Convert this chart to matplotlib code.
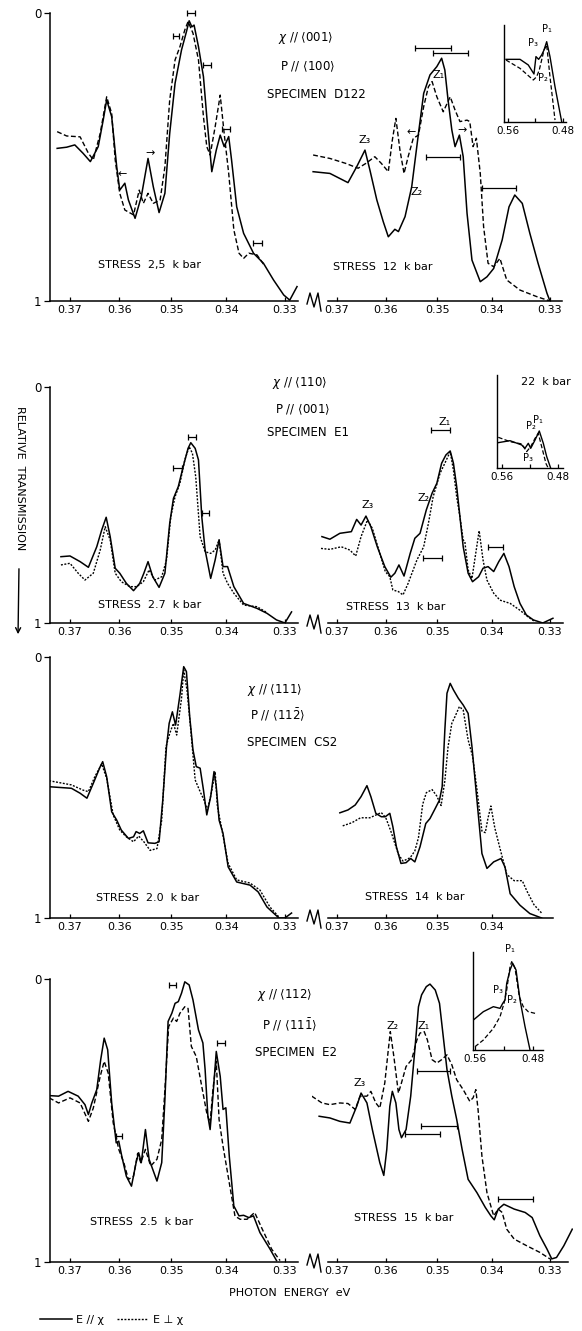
import numpy as np
import matplotlib
matplotlib.use("Agg")
import matplotlib.pyplot as plt
from matplotlib.lines import Line2D
from matplotlib.patches import FancyArrowPatch

# ======================= DATA (photon energy eV, relative transmission) =======================
TICKS = [0.37, 0.36, 0.35, 0.34, 0.33]
TICK_LABELS = ['0.37', '0.36', '0.35', '0.34', '0.33']
INSET_TICKS = [0.56, 0.52, 0.48]
INSET_TICK_LABELS = ['0.56', '', '0.48']

# ---- panel 1 : chi // <001>, P // <100>, specimen D122 ----
P1L_SOLID = [(0.3727,0.470),(0.3707,0.466),(0.3690,0.458),(0.3673,0.487),(0.3658,0.516),(0.3642,0.464),
             (0.3632,0.372),(0.3625,0.302),(0.3615,0.360),(0.3605,0.534),(0.3599,0.615),(0.3589,0.591),
             (0.3582,0.649),(0.3569,0.713),(0.3557,0.638),(0.3544,0.505),(0.3534,0.603),(0.3523,0.693),
             (0.3512,0.626),(0.3503,0.418),(0.3493,0.244),(0.3481,0.128),(0.3472,0.065),(0.3467,0.027),
             (0.3462,0.048),(0.3458,0.042),(0.3450,0.117),(0.3441,0.221),(0.3435,0.360),(0.3426,0.551),
             (0.3418,0.476),(0.3411,0.424),(0.3404,0.464),(0.3396,0.429),(0.3391,0.510),(0.3382,0.673),
             (0.3370,0.765),(0.3353,0.834),(0.3336,0.869),(0.3319,0.927),(0.3302,0.979),(0.3292,0.997),
             (0.3280,0.950)]
P1L_DASH = [(0.3727,0.412),(0.3707,0.427),(0.3679,0.430),(0.3662,0.487),(0.3652,0.510),(0.3638,0.418),
            (0.3625,0.291),(0.3615,0.349),(0.3608,0.510),(0.3599,0.626),(0.3589,0.684),(0.3572,0.701),
            (0.3561,0.615),(0.3553,0.661),(0.3544,0.626),(0.3534,0.661),(0.3521,0.649),(0.3512,0.534),
            (0.3503,0.302),(0.3493,0.163),(0.3484,0.117),(0.3475,0.059),(0.3469,0.030),(0.3460,0.070),
            (0.3450,0.163),(0.3441,0.360),(0.3435,0.464),(0.3429,0.493),(0.3420,0.395),(0.3411,0.285),
            (0.3404,0.418),(0.3396,0.557),(0.3387,0.753),(0.3378,0.834),(0.3370,0.852),(0.3361,0.834),
            (0.3347,0.840),(0.3336,0.872)]
P1R_SOLID = [(0.3751,0.551),(0.3715,0.557),(0.3677,0.589),(0.3659,0.534),(0.3642,0.476),(0.3632,0.545),
             (0.3618,0.649),(0.3605,0.725),(0.3595,0.777),(0.3582,0.751),(0.3575,0.759),(0.3562,0.707),
             (0.3549,0.603),(0.3536,0.418),(0.3526,0.279),(0.3514,0.215),(0.3501,0.186),(0.3492,0.157),
             (0.3486,0.198),(0.3480,0.302),(0.3473,0.406),(0.3467,0.464),(0.3459,0.424),(0.3452,0.499),
             (0.3445,0.695),(0.3436,0.858),(0.3421,0.933),(0.3409,0.916),(0.3397,0.887),(0.3382,0.788),
             (0.3370,0.673),(0.3360,0.632),(0.3347,0.661),(0.3334,0.765),(0.3320,0.869),(0.3305,0.973),
             (0.3300,1.000)]
P1R_DASH = [(0.3751,0.493),(0.3715,0.505),(0.3682,0.522),(0.3656,0.539),(0.3640,0.522),(0.3622,0.499),
            (0.3609,0.522),(0.3595,0.551),(0.3587,0.441),(0.3580,0.366),(0.3572,0.476),(0.3564,0.557),
            (0.3556,0.499),(0.3546,0.435),(0.3536,0.424),(0.3526,0.325),(0.3517,0.256),(0.3510,0.238),
            (0.3501,0.291),(0.3489,0.343),(0.3476,0.291),(0.3467,0.337),(0.3458,0.377),(0.3445,0.372),
            (0.3440,0.377),(0.3434,0.464),(0.3428,0.435),(0.3421,0.557),(0.3415,0.742),(0.3407,0.869),
            (0.3397,0.881),(0.3386,0.852),(0.3374,0.927),(0.3351,0.962),(0.3322,0.985),(0.3300,1.000)]
P1L_BARS = [(0.3464,0.0007,0.001),(0.3491,0.0006,0.080),(0.3434,0.0007,0.181),
            (0.3401,0.0007,0.403),(0.3346,0.0008,0.799)]
P1R_BARS = [(0.3509,0.0034,0.123),(0.3476,0.0032,0.140),(0.3489,0.0032,0.499),(0.3388,0.0030,0.609)]
P1L_MARKS = [('←',0.3595,0.559),('→',0.3540,0.485)]
P1R_MARKS = [('Z₃',0.3642,0.441),('Z₂',0.3539,0.620),('Z₁',0.3498,0.215),
             ('←',0.3550,0.412),('→',0.3454,0.406)]

# ---- panel 2 : chi // <110>, P // <001>, specimen E1 ----
P2L_SOLID = [(0.3719,0.719),(0.3700,0.716),(0.3679,0.740),(0.3662,0.764),(0.3645,0.677),(0.3635,0.606),
             (0.3626,0.552),(0.3618,0.634),(0.3608,0.768),(0.3599,0.789),(0.3586,0.832),(0.3572,0.863),
             (0.3560,0.832),(0.3552,0.789),(0.3544,0.740),(0.3535,0.804),(0.3523,0.849),(0.3512,0.789),
             (0.3503,0.578),(0.3496,0.472),(0.3487,0.422),(0.3478,0.338),(0.3469,0.260),(0.3464,0.236),
             (0.3456,0.260),(0.3450,0.309),(0.3444,0.550),(0.3438,0.691),(0.3428,0.811),(0.3420,0.733),
             (0.3413,0.648),(0.3406,0.761),(0.3398,0.761),(0.3387,0.846),(0.3370,0.917),(0.3347,0.938),
             (0.3330,0.959),(0.3314,0.987),(0.3300,1.000),(0.3289,0.953)]
P2L_DASH = [(0.3719,0.754),(0.3700,0.747),(0.3683,0.789),(0.3669,0.818),(0.3652,0.789),(0.3638,0.691),
            (0.3628,0.592),(0.3618,0.648),(0.3608,0.789),(0.3596,0.825),(0.3579,0.846),(0.3566,0.846),
            (0.3553,0.825),(0.3542,0.775),(0.3531,0.818),(0.3518,0.804),(0.3509,0.733),(0.3501,0.550),
            (0.3493,0.465),(0.3484,0.408),(0.3475,0.309),(0.3467,0.253),(0.3461,0.281),(0.3455,0.380),
            (0.3447,0.634),(0.3438,0.698),(0.3428,0.705),(0.3420,0.691),(0.3413,0.648),(0.3406,0.789),
            (0.3398,0.832),(0.3387,0.874),(0.3370,0.924),(0.3347,0.931),(0.3330,0.956)]
P2R_SOLID = [(0.3732,0.634),(0.3715,0.645),(0.3694,0.620),(0.3670,0.613),(0.3659,0.561),(0.3650,0.585),
             (0.3640,0.547),(0.3630,0.592),(0.3617,0.677),(0.3602,0.761),(0.3590,0.806),(0.3582,0.789),
             (0.3574,0.754),(0.3564,0.801),(0.3552,0.705),(0.3543,0.641),(0.3533,0.620),(0.3521,0.521),
             (0.3510,0.450),(0.3501,0.408),(0.3492,0.323),(0.3484,0.288),(0.3476,0.271),(0.3470,0.323),
             (0.3464,0.422),(0.3458,0.550),(0.3452,0.677),(0.3443,0.789),(0.3435,0.825),(0.3424,0.804),
             (0.3416,0.768),(0.3407,0.761),(0.3397,0.782),(0.3388,0.740),(0.3379,0.705),(0.3370,0.761),
             (0.3361,0.846),(0.3351,0.917),(0.3340,0.966),(0.3328,0.987),(0.3312,1.000),(0.3295,0.980)]
P2R_DASH = [(0.3734,0.684),(0.3715,0.688),(0.3691,0.677),(0.3673,0.691),(0.3661,0.716),(0.3650,0.634),
            (0.3637,0.564),(0.3627,0.599),(0.3612,0.705),(0.3601,0.782),(0.3592,0.804),(0.3586,0.860),
            (0.3575,0.867),(0.3566,0.881),(0.3556,0.832),(0.3539,0.733),(0.3526,0.677),(0.3517,0.578),
            (0.3508,0.465),(0.3495,0.366),(0.3486,0.323),(0.3476,0.274),(0.3470,0.352),(0.3464,0.465),
            (0.3458,0.550),(0.3452,0.648),(0.3449,0.655),(0.3443,0.775),(0.3436,0.811),(0.3431,0.733),
            (0.3423,0.609),(0.3416,0.733),(0.3409,0.818),(0.3397,0.874),(0.3386,0.903),(0.3368,0.917),
            (0.3351,0.946),(0.3337,0.974),(0.3325,0.995)]
P2L_BARS = [(0.3462,0.0007,0.210),(0.3489,0.0008,0.342),(0.3437,0.0006,0.532)]
P2R_BARS = [(0.3494,0.0018,0.182),(0.3509,0.0018,0.726),(0.3394,0.0014,0.677)]
P2L_MARKS = []
P2R_MARKS = [('Z₃',0.3637,0.500),('Z₂',0.3526,0.472),('Z₁',0.3486,0.150)]

# ---- panel 3 : chi // <111>, P // <11-2>, specimen CS2 ----
P3L_SOLID = [(0.3744,0.497),(0.3697,0.503),(0.3679,0.522),(0.3665,0.541),(0.3652,0.484),(0.3638,0.420),
             (0.3633,0.401),(0.3625,0.459),(0.3615,0.593),(0.3605,0.625),(0.3596,0.663),(0.3582,0.695),
             (0.3572,0.689),(0.3567,0.669),(0.3560,0.676),(0.3553,0.666),(0.3544,0.712),(0.3531,0.714),
             (0.3523,0.708),(0.3516,0.548),(0.3509,0.344),(0.3504,0.254),(0.3498,0.210),(0.3492,0.261),
             (0.3484,0.146),(0.3477,0.037),(0.3472,0.056),(0.3466,0.228),(0.3460,0.356),(0.3454,0.420),
             (0.3447,0.426),(0.3441,0.509),(0.3435,0.605),(0.3428,0.535),(0.3422,0.439),(0.3418,0.497),
             (0.3413,0.625),(0.3406,0.676),(0.3397,0.804),(0.3382,0.862),(0.3359,0.874),(0.3345,0.900),
             (0.3330,0.958),(0.3310,1.000),(0.3300,1.000),(0.3289,0.981)]
P3L_DASH = [(0.3744,0.474),(0.3697,0.490),(0.3673,0.510),(0.3662,0.516),(0.3649,0.459),(0.3635,0.410),
            (0.3625,0.465),(0.3612,0.605),(0.3599,0.663),(0.3586,0.689),(0.3572,0.708),(0.3562,0.686),
            (0.3552,0.708),(0.3540,0.741),(0.3527,0.734),(0.3518,0.625),(0.3510,0.344),(0.3503,0.293),
            (0.3496,0.254),(0.3490,0.299),(0.3481,0.158),(0.3477,0.050),(0.3471,0.126),(0.3464,0.280),
            (0.3456,0.471),(0.3447,0.516),(0.3440,0.548),(0.3434,0.586),(0.3427,0.523),(0.3420,0.439),
            (0.3416,0.573),(0.3409,0.650),(0.3397,0.791),(0.3382,0.854),(0.3359,0.866),(0.3342,0.893),
            (0.3325,0.958),(0.3310,0.996)]
P3R_SOLID = [(0.3694,0.597),(0.3677,0.586),(0.3662,0.567),(0.3650,0.535),(0.3638,0.493),(0.3630,0.535),
             (0.3620,0.599),(0.3609,0.612),(0.3601,0.612),(0.3592,0.599),(0.3586,0.650),(0.3579,0.727),
             (0.3570,0.791),(0.3560,0.788),(0.3551,0.772),(0.3543,0.785),(0.3533,0.727),(0.3522,0.638),
             (0.3514,0.619),(0.3504,0.580),(0.3496,0.548),(0.3491,0.497),(0.3486,0.280),(0.3482,0.139),
             (0.3476,0.101),(0.3470,0.126),(0.3461,0.158),(0.3452,0.184),(0.3443,0.216),(0.3436,0.344),
             (0.3427,0.548),(0.3418,0.753),(0.3409,0.810),(0.3397,0.785),(0.3384,0.772),(0.3377,0.805),
             (0.3368,0.907),(0.3351,0.951),(0.3334,0.983),(0.3314,1.000)]
P3R_DASH = [(0.3688,0.647),(0.3669,0.635),(0.3651,0.616),(0.3632,0.616),(0.3609,0.596),(0.3600,0.616),
            (0.3590,0.667),(0.3575,0.756),(0.3566,0.782),(0.3552,0.769),(0.3543,0.743),(0.3536,0.692),
            (0.3528,0.565),(0.3521,0.520),(0.3510,0.508),(0.3501,0.533),(0.3493,0.569),(0.3486,0.475),
            (0.3480,0.344),(0.3473,0.254),(0.3467,0.228),(0.3459,0.190),(0.3452,0.203),(0.3443,0.318),
            (0.3435,0.379),(0.3427,0.507),(0.3418,0.667),(0.3412,0.673),(0.3407,0.616),(0.3402,0.571),
            (0.3395,0.655),(0.3386,0.732),(0.3374,0.833),(0.3361,0.857),(0.3347,0.857),(0.3339,0.897),
            (0.3327,0.949),(0.3314,0.981)]
P3L_BARS = []
P3R_BARS = []
P3L_MARKS = []
P3R_MARKS = []

# ---- panel 4 : chi // <112>, P // <11-1>, specimen E2 ----
P4L_SOLID = [(0.3744,0.412),(0.3724,0.414),(0.3704,0.397),(0.3683,0.414),(0.3669,0.444),(0.3662,0.479),
             (0.3655,0.438),(0.3645,0.391),(0.3637,0.285),(0.3630,0.209),(0.3623,0.250),(0.3615,0.438),
             (0.3606,0.579),(0.3601,0.573),(0.3595,0.626),(0.3586,0.697),(0.3576,0.732),(0.3567,0.649),
             (0.3562,0.614),(0.3557,0.649),(0.3549,0.532),(0.3542,0.637),(0.3527,0.714),(0.3518,0.649),
             (0.3512,0.426),(0.3506,0.150),(0.3499,0.121),(0.3493,0.086),(0.3487,0.080),(0.3481,0.050),
             (0.3475,0.010),(0.3467,0.021),(0.3460,0.074),(0.3450,0.180),(0.3442,0.226),(0.3438,0.320),
             (0.3433,0.485),(0.3429,0.532),(0.3424,0.414),(0.3418,0.256),(0.3411,0.344),(0.3406,0.461),
             (0.3401,0.455),(0.3395,0.626),(0.3387,0.802),(0.3378,0.837),(0.3370,0.835),(0.3361,0.843),
             (0.3353,0.837),(0.3342,0.896),(0.3325,0.954),(0.3314,0.995)]
P4L_DASH = [(0.3744,0.420),(0.3724,0.438),(0.3700,0.420),(0.3679,0.438),(0.3662,0.503),(0.3652,0.456),
            (0.3638,0.344),(0.3630,0.291),(0.3622,0.332),(0.3612,0.508),(0.3601,0.602),(0.3591,0.649),
            (0.3582,0.708),(0.3572,0.697),(0.3564,0.616),(0.3558,0.649),(0.3549,0.602),(0.3539,0.661),
            (0.3527,0.637),(0.3518,0.567),(0.3512,0.391),(0.3505,0.168),(0.3496,0.138),(0.3490,0.150),
            (0.3484,0.121),(0.3475,0.098),(0.3469,0.104),(0.3463,0.238),(0.3454,0.274),(0.3444,0.380),
            (0.3435,0.474),(0.3429,0.509),(0.3424,0.391),(0.3418,0.291),(0.3413,0.497),(0.3406,0.591),
            (0.3394,0.732),(0.3385,0.838),(0.3376,0.849),(0.3364,0.849),(0.3351,0.825),(0.3338,0.884),
            (0.3322,0.955),(0.3308,0.995)]
P4R_SOLID = [(0.3738,0.485),(0.3715,0.491),(0.3694,0.503),(0.3673,0.509),(0.3659,0.450),(0.3650,0.403),
             (0.3638,0.438),(0.3627,0.532),(0.3612,0.649),(0.3604,0.694),(0.3598,0.602),(0.3592,0.450),
             (0.3587,0.397),(0.3580,0.438),(0.3574,0.532),(0.3569,0.561),(0.3560,0.532),(0.3551,0.414),
             (0.3543,0.250),(0.3536,0.098),(0.3530,0.056),(0.3521,0.027),(0.3514,0.018),(0.3504,0.039),
             (0.3496,0.086),(0.3489,0.203),(0.3482,0.320),(0.3473,0.414),(0.3464,0.496),(0.3454,0.602),
             (0.3443,0.708),(0.3427,0.755),(0.3412,0.807),(0.3402,0.837),(0.3396,0.851),(0.3389,0.813),
             (0.3379,0.796),(0.3361,0.813),(0.3342,0.825),(0.3330,0.843),(0.3317,0.907),(0.3305,0.954),
             (0.3297,0.989),(0.3289,0.984),(0.3277,0.943),(0.3263,0.884)]
P4R_DASH = [(0.3754,0.414),(0.3732,0.438),(0.3715,0.444),(0.3694,0.438),(0.3677,0.440),(0.3662,0.461),
            (0.3652,0.414),(0.3638,0.414),(0.3630,0.397),(0.3620,0.438),(0.3612,0.456),(0.3602,0.367),
            (0.3595,0.250),(0.3591,0.186),(0.3584,0.274),(0.3575,0.403),(0.3569,0.367),(0.3560,0.309),
            (0.3549,0.285),(0.3539,0.215),(0.3533,0.191),(0.3525,0.186),(0.3519,0.215),(0.3510,0.285),
            (0.3501,0.297),(0.3492,0.285),(0.3482,0.268),(0.3473,0.303),(0.3464,0.356),(0.3452,0.391),
            (0.3440,0.432),(0.3434,0.420),(0.3429,0.391),(0.3425,0.461),(0.3418,0.626),(0.3409,0.755),
            (0.3397,0.837),(0.3389,0.813),(0.3382,0.825),(0.3374,0.884),(0.3361,0.919),(0.3339,0.943),
            (0.3317,0.966),(0.3300,0.989)]
P4L_BARS = [(0.3498,0.0007,0.021),(0.3410,0.0007,0.226),(0.3601,0.0006,0.555)]
P4R_BARS = [(0.3508,0.0031,0.326),(0.3498,0.0034,0.520),(0.3529,0.0034,0.546),(0.3359,0.0030,0.776)]
P4L_MARKS = []
P4R_MARKS = [('Z₃',0.3652,0.367),('Z₂',0.3586,0.167),('Z₁',0.3526,0.167)]

# ---- insets (P-lines, 0.56 - 0.48 eV) ----
INS1_SOLID = [(0.5629,0.354),(0.5425,0.354),(0.5305,0.412),(0.5222,0.505),(0.5193,0.326),(0.5154,0.354),
              (0.5110,0.309),(0.5076,0.258),(0.5037,0.172),(0.4989,0.326),(0.4916,0.636),(0.4819,0.997)]
INS1_DASH = [(0.5629,0.361),(0.5425,0.447),(0.5232,0.567),(0.5183,0.533),(0.5145,0.464),(0.5110,0.360),
             (0.5076,0.258),(0.5037,0.206),(0.4989,0.533),(0.4916,0.980)]
INS1_LABELS = [('P₁',0.5037,0.040),('P₃',0.5236,0.186),('P₂',0.5095,0.549)]
INS2_SOLID = [(0.5648,0.725),(0.5483,0.704),(0.5317,0.750),(0.5271,0.786),(0.5224,0.732),(0.5190,0.786),
              (0.5129,0.697),(0.5069,0.600),(0.5012,0.732),(0.4964,0.875),(0.4907,1.000)]
INS2_DASH = [(0.5648,0.668),(0.5483,0.714),(0.5317,0.739),(0.5247,0.821),(0.5190,0.768),(0.5129,0.679),
             (0.5083,0.625),(0.5035,0.768),(0.4974,0.950),(0.4941,1.000)]
INS2_LABELS = [('P₂',0.5190,0.547),('P₁',0.5083,0.482),('P₃',0.5224,0.893)]
INS4_SOLID = [(0.5623,0.694),(0.5485,0.609),(0.5347,0.558),(0.5255,0.575),(0.5218,0.524),(0.5186,0.490),
              (0.5163,0.320),(0.5117,0.184),(0.5080,0.115),(0.5034,0.184),(0.4979,0.490),(0.4910,0.762),
              (0.4841,1.000)]
INS4_DASH = [(0.5600,0.966),(0.5485,0.898),(0.5347,0.779),(0.5255,0.660),(0.5200,0.524),(0.5163,0.388),
             (0.5117,0.150),(0.5094,0.099),(0.5048,0.167),(0.4989,0.456),(0.4934,0.558),(0.4866,0.609),
             (0.4772,0.626)]
INS4_LABELS = [('P₁',0.5117,-0.03),('P₃',0.5279,0.388),('P₂',0.5094,0.490)]

HEADERS = [(r'$\chi$ // $\langle 001\rangle$', r'P // $\langle 100\rangle$', 'SPECIMEN  D122'),
           (r'$\chi$ // $\langle 110\rangle$', r'P // $\langle 001\rangle$', 'SPECIMEN  E1'),
           (r'$\chi$ // $\langle 111\rangle$', r'P // $\langle 11\bar{2}\rangle$', 'SPECIMEN  CS2'),
           (r'$\chi$ // $\langle 112\rangle$', r'P // $\langle 11\bar{1}\rangle$', 'SPECIMEN  E2')]
STRESS_LEFT = ['STRESS  2,5  k bar', 'STRESS  2.7  k bar', 'STRESS  2.0  k bar', 'STRESS  2.5  k bar']
STRESS_RIGHT = ['STRESS  12  k bar', 'STRESS  13  k bar', 'STRESS  14  k bar', 'STRESS  15  k bar']
LEGEND_LABELS = ['E // χ', 'E ⊥ χ']

# ======================= LAYOUT / STYLE =======================
W, H = 582, 1331
plt.rcParams['font.family'] = ['DejaVu Sans']
plt.rcParams['mathtext.fontset'] = 'dejavusans'
fig = plt.figure(figsize=(W / 100, H / 100), dpi=100)


def rect(l, r, t, b):
    return [l / W, 1 - b / H, (r - l) / W, (b - t) / H]


def fx(px):
    return px / W


def fy(py):
    return 1 - py / H


def fwd(e):
    e = np.asarray(e, dtype=float)
    with np.errstate(divide='ignore', invalid='ignore'):
        return -1.0 / e


PANEL_Y = [(13, 301), (387, 623), (657, 918), (979, 1262)]
LEFT_X, RIGHT_X = (50, 298), (312, 573)
LEFT_LIM, RIGHT_LIM = (0.37422, 0.32784), (0.37534, 0.32618)
RIGHT_AXIS_START = 0.37191
RIGHT_AXIS_END = [0.3280, 0.3278, 0.3295, 0.3270]
RIGHT_NTICKS = [5, 5, 4, 5]
DASHES = [(0, (3.5, 1.8)), (0, (1.4, 1.1)), (0, (1.4, 1.1)), (0, (3.5, 1.8))]
HEAD_POS = [[(278, 38), (280, 67), (267, 95)], [(272, 383), (275, 410), (267, 433)],
            [(247, 690), (250, 715), (247, 743)], [(257, 995), (262, 1025), (255, 1052)]]
STRESS_POS = [[(150, 265), (383, 267)], [(150, 605), (396, 607)],
              [(148, 898), (415, 897)], [(142, 1222), (404, 1218)]]

DATA = [
    (P1L_SOLID, P1L_DASH, P1L_BARS, P1L_MARKS, P1R_SOLID, P1R_DASH, P1R_BARS, P1R_MARKS),
    (P2L_SOLID, P2L_DASH, P2L_BARS, P2L_MARKS, P2R_SOLID, P2R_DASH, P2R_BARS, P2R_MARKS),
    (P3L_SOLID, P3L_DASH, P3L_BARS, P3L_MARKS, P3R_SOLID, P3R_DASH, P3R_BARS, P3R_MARKS),
    (P4L_SOLID, P4L_DASH, P4L_BARS, P4L_MARKS, P4R_SOLID, P4R_DASH, P4R_BARS, P4R_MARKS),
]


def curve(ax, pts, **kw):
    e, t = np.array(pts).T
    ax.plot(e, t, color='black', solid_joinstyle='round', dash_joinstyle='round', **kw)


def bars(ax, b):
    if not b:
        return
    e, hw, t = np.array(b).T
    ax.errorbar(e, t, xerr=hw, fmt='none', ecolor='black', elinewidth=0.9,
                capsize=2, capthick=0.9, clip_on=False)


def marks(ax, m):
    for s, e, t in m:
        ax.text(e, t, s, fontsize=8, ha='center', va='center')


for i, (top, bot) in enumerate(PANEL_Y):
    ls_, ld_, lb_, lm_, rs_, rd_, rb_, rm_ = DATA[i]
    for side in ('L', 'R'):
        if side == 'L':
            ax = fig.add_axes(rect(LEFT_X[0], LEFT_X[1], top, bot))
        else:
            ax = fig.add_axes(rect(RIGHT_X[0], RIGHT_X[1], top, bot))
        ax.set_facecolor('none')
        ax.set_xscale('function', functions=(fwd, fwd))
        ax.set_xlim(*(LEFT_LIM if side == 'L' else RIGHT_LIM))
        ax.set_ylim(1, 0)
        ax.spines['top'].set_visible(False)
        ax.spines['right'].set_visible(False)
        for sp in ax.spines.values():
            sp.set_linewidth(1.1)
        ax.tick_params(axis='x', direction='in', length=3, width=0.9, labelsize=8, pad=3)
        if side == 'L':
            ax.set_xticks(TICKS)
            ax.set_xticklabels(TICK_LABELS)
            ax.set_yticks([0, 1])
            ax.set_yticklabels(['0', '1'])
            ax.tick_params(axis='y', direction='out', length=4, width=0.9, labelsize=8.5, pad=2)
            curve(ax, ls_, lw=1.1)
            curve(ax, ld_, lw=1.0, linestyle=DASHES[i])
            bars(ax, lb_)
            marks(ax, lm_)
        else:
            n = RIGHT_NTICKS[i]
            ax.set_xticks(TICKS[:n])
            ax.set_xticklabels(TICK_LABELS[:n])
            ax.spines['left'].set_visible(False)
            ax.set_yticks([])
            ax.spines['bottom'].set_bounds(RIGHT_AXIS_START, RIGHT_AXIS_END[i])
            curve(ax, rs_, lw=1.1)
            curve(ax, rd_, lw=1.0, linestyle=DASHES[i])
            bars(ax, rb_)
            marks(ax, rm_)
    # header texts
    for txt, (px, py) in zip(HEADERS[i], HEAD_POS[i]):
        fig.text(fx(px), fy(py), txt, fontsize=8.5, ha='left', va='center')
    (sxl, syl), (sxr, syr) = STRESS_POS[i]
    fig.text(fx(sxl), fy(syl), STRESS_LEFT[i], fontsize=8, ha='center', va='center')
    fig.text(fx(sxr), fy(syr), STRESS_RIGHT[i], fontsize=8, ha='center', va='center')
    # axis-break squiggle
    xs = [307, 310, 314, 318, 321]
    dys = [3, -8, 6, -8, 10]
    fig.add_artist(Line2D([fx(x) for x in xs], [fy(bot + d) for d in dys],
                          transform=fig.transFigure, color='black', lw=1.0))

# ---------------- insets ----------------
INSETS = [
    dict(box=(504, 566, 25, 122), lim=(0.5658, 0.4756), solid=INS1_SOLID, dash=INS1_DASH,
         labels=INS1_LABELS, note=None, dash_style=DASHES[0]),
    dict(box=(497.3, 562.7, 375, 468.3), lim=(0.5662, 0.4738), solid=INS2_SOLID, dash=INS2_DASH,
         labels=INS2_LABELS, note='22  k bar', dash_style=DASHES[0]),
    dict(box=(472.7, 543.3, 952, 1050), lim=(0.5632, 0.4658), solid=INS4_SOLID, dash=INS4_DASH,
         labels=INS4_LABELS, note=None, dash_style=DASHES[3]),
]
for ins in INSETS:
    l, r, t, b = ins['box']
    ax = fig.add_axes(rect(l, r, t, b))
    ax.set_facecolor('none')
    ax.set_xlim(*ins['lim'])
    ax.set_ylim(1, 0)
    ax.spines['top'].set_visible(False)
    ax.spines['right'].set_visible(False)
    for sp in ax.spines.values():
        sp.set_linewidth(1.0)
    ax.set_yticks([])
    ax.set_xticks(INSET_TICKS)
    ax.set_xticklabels(INSET_TICK_LABELS)
    ax.tick_params(axis='x', direction='in', length=3, width=0.9, labelsize=7.5, pad=3)
    curve(ax, ins['solid'], lw=1.0)
    curve(ax, ins['dash'], lw=0.9, linestyle=ins['dash_style'])
    for s, e, v in ins['labels']:
        ax.text(e, v, s, fontsize=7, ha='center', va='center', clip_on=False)
    if ins['note']:
        ax.text(0.75, 0.93, ins['note'], transform=ax.transAxes, fontsize=8, ha='center', va='center')

# ---------------- global labels ----------------
fig.text(fx(20), fy(478), 'RELATIVE  TRANSMISSION', rotation=-90, fontsize=8, ha='center', va='center')
fig.add_artist(FancyArrowPatch((fx(19), fy(566)), (fx(18), fy(637)), transform=fig.transFigure,
                               arrowstyle='->', mutation_scale=9, lw=1.0, color='black'))
fig.text(fx(290), fy(1293), 'PHOTON  ENERGY  eV', fontsize=8, ha='center', va='center')

handles = [Line2D([], [], color='black', lw=1.1),
           Line2D([], [], color='black', lw=1.0, linestyle=(0, (1.4, 1.1)))]
fig.legend(handles, LEGEND_LABELS, loc='center left', bbox_to_anchor=(fx(36), fy(1320)),
           ncol=2, frameon=False, fontsize=8, handlelength=2.8, columnspacing=1.2,
           handletextpad=0.4, borderaxespad=0)

fig.savefig('out.png', dpi=100)
